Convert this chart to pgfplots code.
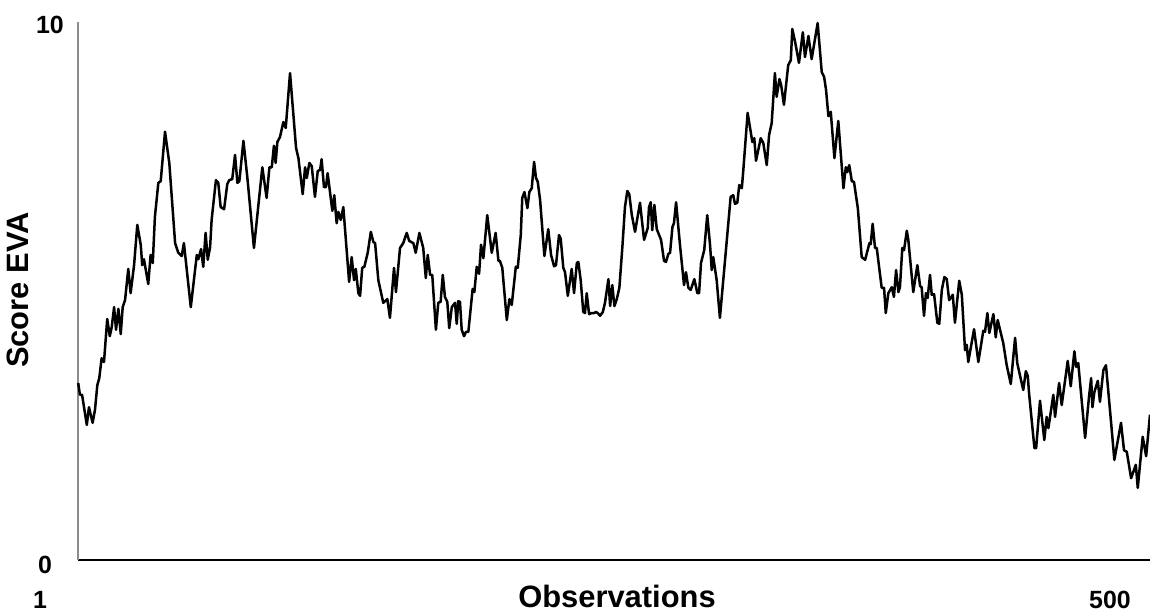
\documentclass[border=0pt]{standalone}
\usepackage{pgfplots}
\pgfplotsset{compat=1.18}
\usepackage{fontspec}
\setmainfont{Liberation Sans}
\begin{document}
\begin{tikzpicture}[x=1bp,y=1bp]
\path[use as bounding box] (-39bp,-26bp) rectangle (536bp,280bp);
\begin{axis}[
  at={(0,0)}, anchor=south west,
  scale only axis, width=536bp, height=269bp,
  xmin=1, xmax=500, ymin=0, ymax=10,
  axis x line=bottom, axis y line=left,
  x axis line style={-, black, line width=0.8bp},
  y axis line style={-, black!45, line width=0.6bp},
  xtick=\empty, ytick=\empty,
  clip=false,
]
\addplot[black, line width=1.25bp, line join=round] table {
x y
1.1 3.29
1.9 3.07
2.9 3.07
5.1 2.51
6.1 2.84
7.8 2.55
8.9 2.79
10.0 3.25
10.9 3.38
12.0 3.75
13.1 3.68
14.6 4.48
15.8 4.16
16.7 4.33
17.8 4.70
18.7 4.28
19.8 4.67
20.9 4.20
21.8 4.70
22.9 4.83
24.4 5.41
25.5 4.96
27.1 5.48
28.6 6.23
30.2 5.86
30.9 5.48
31.7 5.59
33.7 5.13
34.8 5.67
35.8 5.52
36.8 6.38
38.4 7.01
39.5 7.04
41.5 7.96
43.5 7.38
46.2 5.89
47.7 5.71
49.3 5.65
50.3 5.89
53.5 4.70
56.3 5.67
57.0 5.59
58.3 5.78
59.3 5.45
60.4 6.08
61.4 5.58
62.5 5.82
63.2 6.32
65.2 7.06
66.3 7.01
67.4 6.56
69.0 6.52
70.5 6.99
71.4 7.06
72.8 7.08
74.1 7.53
75.2 7.01
76.1 7.04
78.0 7.79
79.8 7.12
82.9 5.80
86.8 7.30
88.8 6.73
90.1 7.30
91.2 7.30
92.2 7.70
93.0 7.38
93.8 7.77
95.0 7.86
96.6 8.14
97.7 8.03
99.7 9.05
102.5 7.66
103.6 7.47
105.6 6.80
106.7 7.30
107.5 7.10
108.7 7.38
109.8 7.32
111.3 6.75
112.6 7.23
113.7 7.25
114.4 7.45
115.5 6.93
116.4 6.93
117.2 7.19
119.4 6.49
120.3 6.78
121.4 6.26
122.2 6.47
123.3 6.32
124.5 6.56
127.2 5.17
128.4 5.63
129.5 5.20
130.3 5.41
131.5 4.96
132.3 4.91
133.3 5.43
134.3 5.45
135.9 5.72
137.3 6.10
138.5 5.91
139.3 5.89
140.8 5.20
143.1 4.78
145.0 4.85
146.2 4.50
148.1 5.43
149.0 4.98
150.9 5.80
152.4 5.89
154.0 6.08
155.2 5.93
157.1 5.89
158.2 5.71
159.9 6.08
161.7 5.80
162.9 5.24
163.8 5.67
164.9 5.30
165.9 5.30
167.6 4.28
168.7 4.78
169.8 4.80
170.8 5.30
171.8 4.89
172.9 4.80
173.8 4.31
175.0 4.70
176.5 4.78
177.3 4.39
178.0 4.81
178.8 4.80
179.6 4.28
180.7 4.16
181.6 4.24
182.7 4.24
184.7 5.04
185.5 4.98
186.6 5.45
187.7 5.32
188.6 5.86
189.7 5.61
191.5 6.41
193.6 5.71
195.4 6.08
196.7 5.56
197.4 5.56
198.5 5.43
200.6 4.46
201.8 4.85
202.9 4.74
204.8 5.45
205.7 5.43
207.1 6.04
207.8 6.73
208.8 6.84
210.2 6.54
211.1 6.84
212.2 6.91
213.3 7.40
214.2 7.10
215.0 7.03
216.1 6.69
218.1 5.65
219.9 6.15
221.2 5.67
222.6 5.46
223.5 5.48
224.9 6.04
225.7 5.97
226.9 5.43
227.7 5.35
229.0 4.91
230.8 5.41
231.9 4.96
233.2 5.52
233.9 5.54
235.0 5.20
236.2 4.61
237.0 4.59
237.8 4.96
238.9 4.57
240.1 4.59
241.2 4.59
242.1 4.61
242.9 4.59
244.0 4.54
245.3 4.61
246.3 4.78
247.9 5.22
248.7 4.72
249.7 5.11
250.7 4.72
251.8 4.85
253.0 5.06
254.4 5.82
255.6 6.56
256.7 6.86
257.6 6.80
258.8 6.41
260.3 6.10
262.6 6.64
264.5 5.95
266.2 6.17
266.8 6.56
267.6 6.65
268.3 6.13
269.3 6.60
270.4 6.15
272.4 5.95
273.8 5.56
274.7 5.54
275.8 5.69
276.6 5.71
277.7 6.19
278.4 6.26
279.4 6.65
281.2 5.86
283.1 5.11
284.0 5.35
285.1 5.06
286.2 5.02
287.9 5.22
289.3 4.96
290.1 4.96
291.0 5.52
292.5 5.76
293.9 6.41
295.2 5.86
296.0 5.39
296.7 5.63
298.3 5.20
299.8 4.50
304.8 6.75
306.0 6.78
306.8 6.62
307.9 6.64
308.8 6.97
310.0 6.91
310.7 7.25
312.7 8.31
314.9 7.77
315.8 7.84
316.6 7.42
318.8 7.84
320.0 7.75
321.6 7.34
322.7 7.90
323.9 8.12
325.4 9.05
326.2 8.61
327.5 8.94
328.3 8.83
329.6 8.46
331.6 9.20
332.8 9.29
333.5 9.87
334.8 9.63
336.6 9.24
338.4 9.81
339.4 9.35
341.0 9.74
342.5 9.31
345.3 9.98
347.2 9.07
348.3 8.98
349.2 8.74
350.3 8.25
351.4 8.33
353.1 7.47
354.9 8.16
357.3 6.91
358.4 7.30
359.1 7.21
360.0 7.34
361.2 7.04
362.2 7.03
364.0 6.54
365.8 5.63
367.4 5.58
369.4 5.89
370.0 5.87
370.9 6.25
372.0 5.80
372.8 5.80
375.1 5.06
376.2 5.06
377.0 4.59
378.2 4.96
379.8 5.07
380.8 4.89
381.8 5.39
382.9 4.98
383.6 5.07
384.7 5.80
385.5 5.76
386.8 6.12
387.5 5.95
389.8 4.98
391.7 5.48
393.0 5.09
393.7 5.07
394.8 4.54
395.7 4.96
396.5 4.87
397.6 5.30
398.4 4.93
399.5 4.94
401.0 4.41
401.9 4.39
403.1 5.02
404.3 5.26
405.4 5.22
406.5 4.83
408.2 4.93
409.2 4.41
411.2 5.19
412.4 4.93
413.9 3.90
414.7 4.00
415.4 3.68
418.1 4.29
420.1 3.68
422.4 4.26
423.2 4.24
424.3 4.59
425.2 4.22
427.1 4.57
428.2 4.14
429.1 4.46
431.7 4.03
433.3 3.62
435.2 3.27
437.2 4.13
438.2 3.66
441.0 3.16
442.2 3.51
443.1 3.42
443.7 3.10
446.2 2.08
447.0 2.08
448.8 2.96
450.8 2.23
451.9 2.66
452.7 2.45
455.0 3.07
455.8 2.66
457.7 3.29
458.9 2.88
461.7 3.70
463.1 3.23
464.8 3.88
465.6 3.59
466.6 3.66
469.8 2.27
471.6 3.03
472.6 3.38
473.2 2.84
474.1 3.12
475.7 3.33
476.7 2.94
478.3 3.53
479.5 3.62
481.9 2.55
483.4 1.86
486.5 2.55
487.9 2.04
489.2 2.01
491.2 1.52
493.4 1.77
494.3 1.34
496.6 2.29
498.2 1.93
500.0 2.70
};
\end{axis}
\node[font=\fontsize{12.5}{14}\selectfont\bfseries] at (-14bp,267.5bp) {10};
\node[font=\fontsize{12.5}{14}\selectfont\bfseries] at (-16.5bp,-2.5bp) {0};
\node[font=\fontsize{12.5}{14}\selectfont\bfseries] at (-19bp,-20bp) {1};
\node[font=\fontsize{12.5}{14}\selectfont\bfseries] at (516bp,-20bp) {500};
\node[font=\fontsize{15.5}{18}\selectfont\bfseries] at (269.5bp,-18bp) {Observations};
\node[font=\fontsize{15.5}{18}\selectfont\bfseries, rotate=90] at (-30bp,135bp) {Score EVA};
\end{tikzpicture}
\end{document}
